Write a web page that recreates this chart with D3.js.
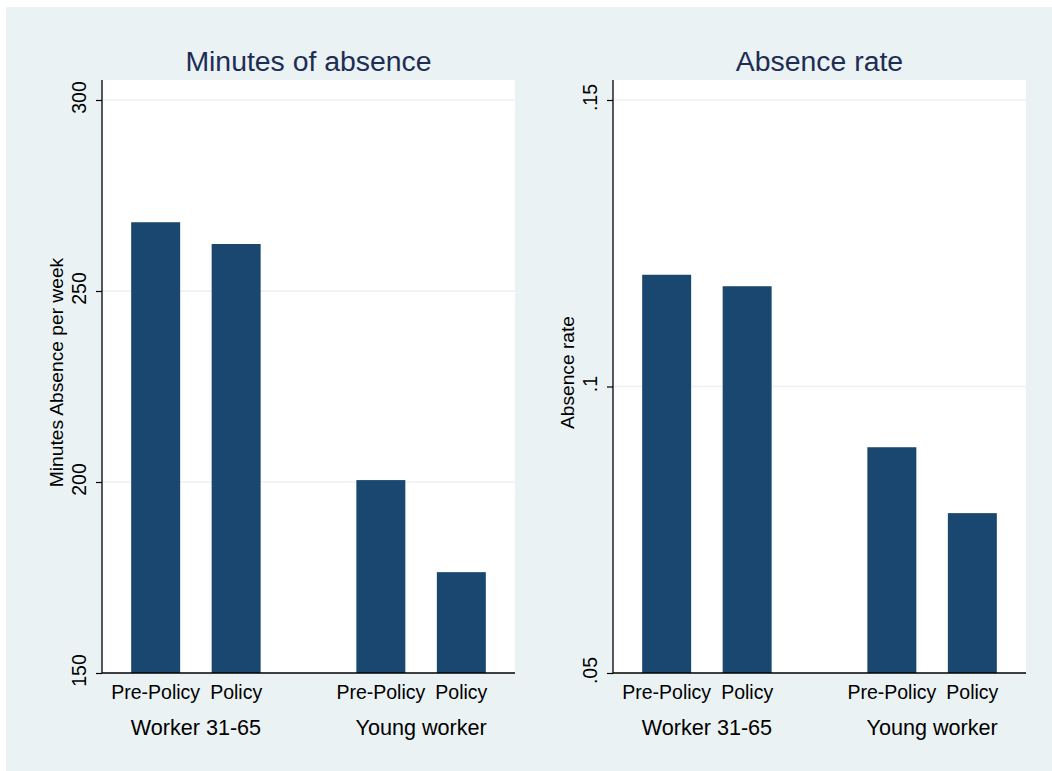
<!DOCTYPE html>
<html>
<head>
<meta charset="utf-8">
<script src="https://cdn.jsdelivr.net/npm/d3@7"></script>
<style>
  body { margin: 0; background: #fff; }
  text { font-family: "Liberation Sans", Arial, sans-serif; }
</style>
</head>
<body>
<div id="wrapper"></div>
<script>
// data
const groups = ["Worker 31-65", "Young worker"]
const periods = ["Pre-Policy", "Policy"]
const minutesValues = [[268.0, 262.3], [200.5, 176.4]]
const rateValues = [[0.1195, 0.1175], [0.0894, 0.0779]]
const minutesTicks = [150, 200, 250, 300]
const rateTicks = [0.05, 0.10, 0.15]

const panels = [
  { title: "Minutes of absence", yLabel: "Minutes Absence per week", values: minutesValues,
    domain: [150, 300], ticks: minutesTicks, format: d => d,
    left: 102, right: 515 },
  { title: "Absence rate", yLabel: "Absence rate", values: rateValues,
    domain: [0.05, 0.15], ticks: rateTicks, format: d => d3.format(".2~f")(d).replace(/^0/, ""),
    left: 613, right: 1026 },
]

const width = 1052
const height = 771
const plotTop = 80
const plotBottom = 673
const barColor = "#1a476f"
const bg = "#eaf2f3"

const svg = d3.select("#wrapper")
  .append("svg")
    .attr("width", width)
    .attr("height", height)

svg.append("rect")
    .attr("x", 6)
    .attr("y", 7)
    .attr("width", width - 6)
    .attr("height", height - 7)
    .attr("fill", bg)

panels.forEach(p => {
  const g = svg.append("g")

  const yScale = d3.scaleLinear()
    .domain(p.domain)
    .range([plotBottom, plotTop + 20])

  const xGroup = d3.scalePoint()
    .domain(groups)
    .range([p.left, p.right])
    .padding(0.417)
  const step = xGroup.step()
  const xInner = d3.scalePoint()
    .domain(periods)
    .range([-step * 0.1787, step * 0.1787])
  const barWidth = step * 0.2175

  // plot region
  g.append("rect")
      .attr("x", p.left)
      .attr("y", plotTop)
      .attr("width", p.right - p.left)
      .attr("height", plotBottom - plotTop)
      .attr("fill", "#fff")

  // gridlines
  g.selectAll(".grid")
    .data(p.ticks.slice(1))
    .enter().append("line")
      .attr("x1", p.left)
      .attr("x2", p.right)
      .attr("y1", d => yScale(d))
      .attr("y2", d => yScale(d))
      .attr("stroke", bg)
      .attr("stroke-width", 1.5)

  // bars
  const rows = []
  groups.forEach((grp, i) => periods.forEach((per, j) => rows.push({ grp, per, v: p.values[i][j] })))
  g.selectAll(".bar")
    .data(rows)
    .enter().append("rect")
      .attr("x", d => xGroup(d.grp) + xInner(d.per) - barWidth / 2)
      .attr("y", d => yScale(d.v))
      .attr("width", barWidth)
      .attr("height", d => plotBottom - yScale(d.v))
      .attr("fill", barColor)

  // y axis
  const yAxis = g.append("g")
      .attr("transform", `translate(${p.left},0)`)
      .call(d3.axisLeft(yScale).tickValues(p.ticks).tickSize(6).tickFormat(p.format))
  yAxis.select(".domain").attr("d", `M0,${plotTop}V${plotBottom}`).attr("stroke", "#000").attr("stroke-width", 1.3)
  yAxis.selectAll(".tick line").attr("stroke", "#000").attr("stroke-width", 1.2)
  yAxis.selectAll(".tick text")
      .attr("x", null).attr("dy", null)
      .attr("transform", "translate(-23,-3) rotate(-90)")
      .attr("text-anchor", "middle")
      .attr("dominant-baseline", "central")
      .attr("font-size", 19.5)
      .attr("fill", "#000")

  // x axis line
  g.append("line")
      .attr("x1", p.left)
      .attr("x2", p.right)
      .attr("y1", plotBottom)
      .attr("y2", plotBottom)
      .attr("stroke", "#000")
      .attr("stroke-width", 1.3)

  // category labels
  g.selectAll(".cat")
    .data(rows)
    .enter().append("text")
      .attr("x", d => xGroup(d.grp) + xInner(d.per))
      .attr("y", 692)
      .attr("text-anchor", "middle")
      .attr("dominant-baseline", "central")
      .attr("font-size", 19.5)
      .text(d => d.per)

  g.selectAll(".grp")
    .data(groups)
    .enter().append("text")
      .attr("x", d => xGroup(d))
      .attr("y", 727)
      .attr("text-anchor", "middle")
      .attr("dominant-baseline", "central")
      .attr("font-size", 21.6)
      .text(d => d)

  // titles
  g.append("text")
      .attr("x", (p.left + p.right) / 2)
      .attr("y", 61)
      .attr("text-anchor", "middle")
      .attr("dominant-baseline", "central")
      .attr("font-size", 28.4)
      .attr("fill", "#1e2d53")
      .text(p.title)

  g.append("text")
      .attr("transform", `translate(${p.left - 46},${(plotTop + plotBottom) / 2 - 4}) rotate(-90)`)
      .attr("text-anchor", "middle")
      .attr("dominant-baseline", "central")
      .attr("font-size", 19.2)
      .text(p.yLabel)
})
</script>
</body>
</html>
